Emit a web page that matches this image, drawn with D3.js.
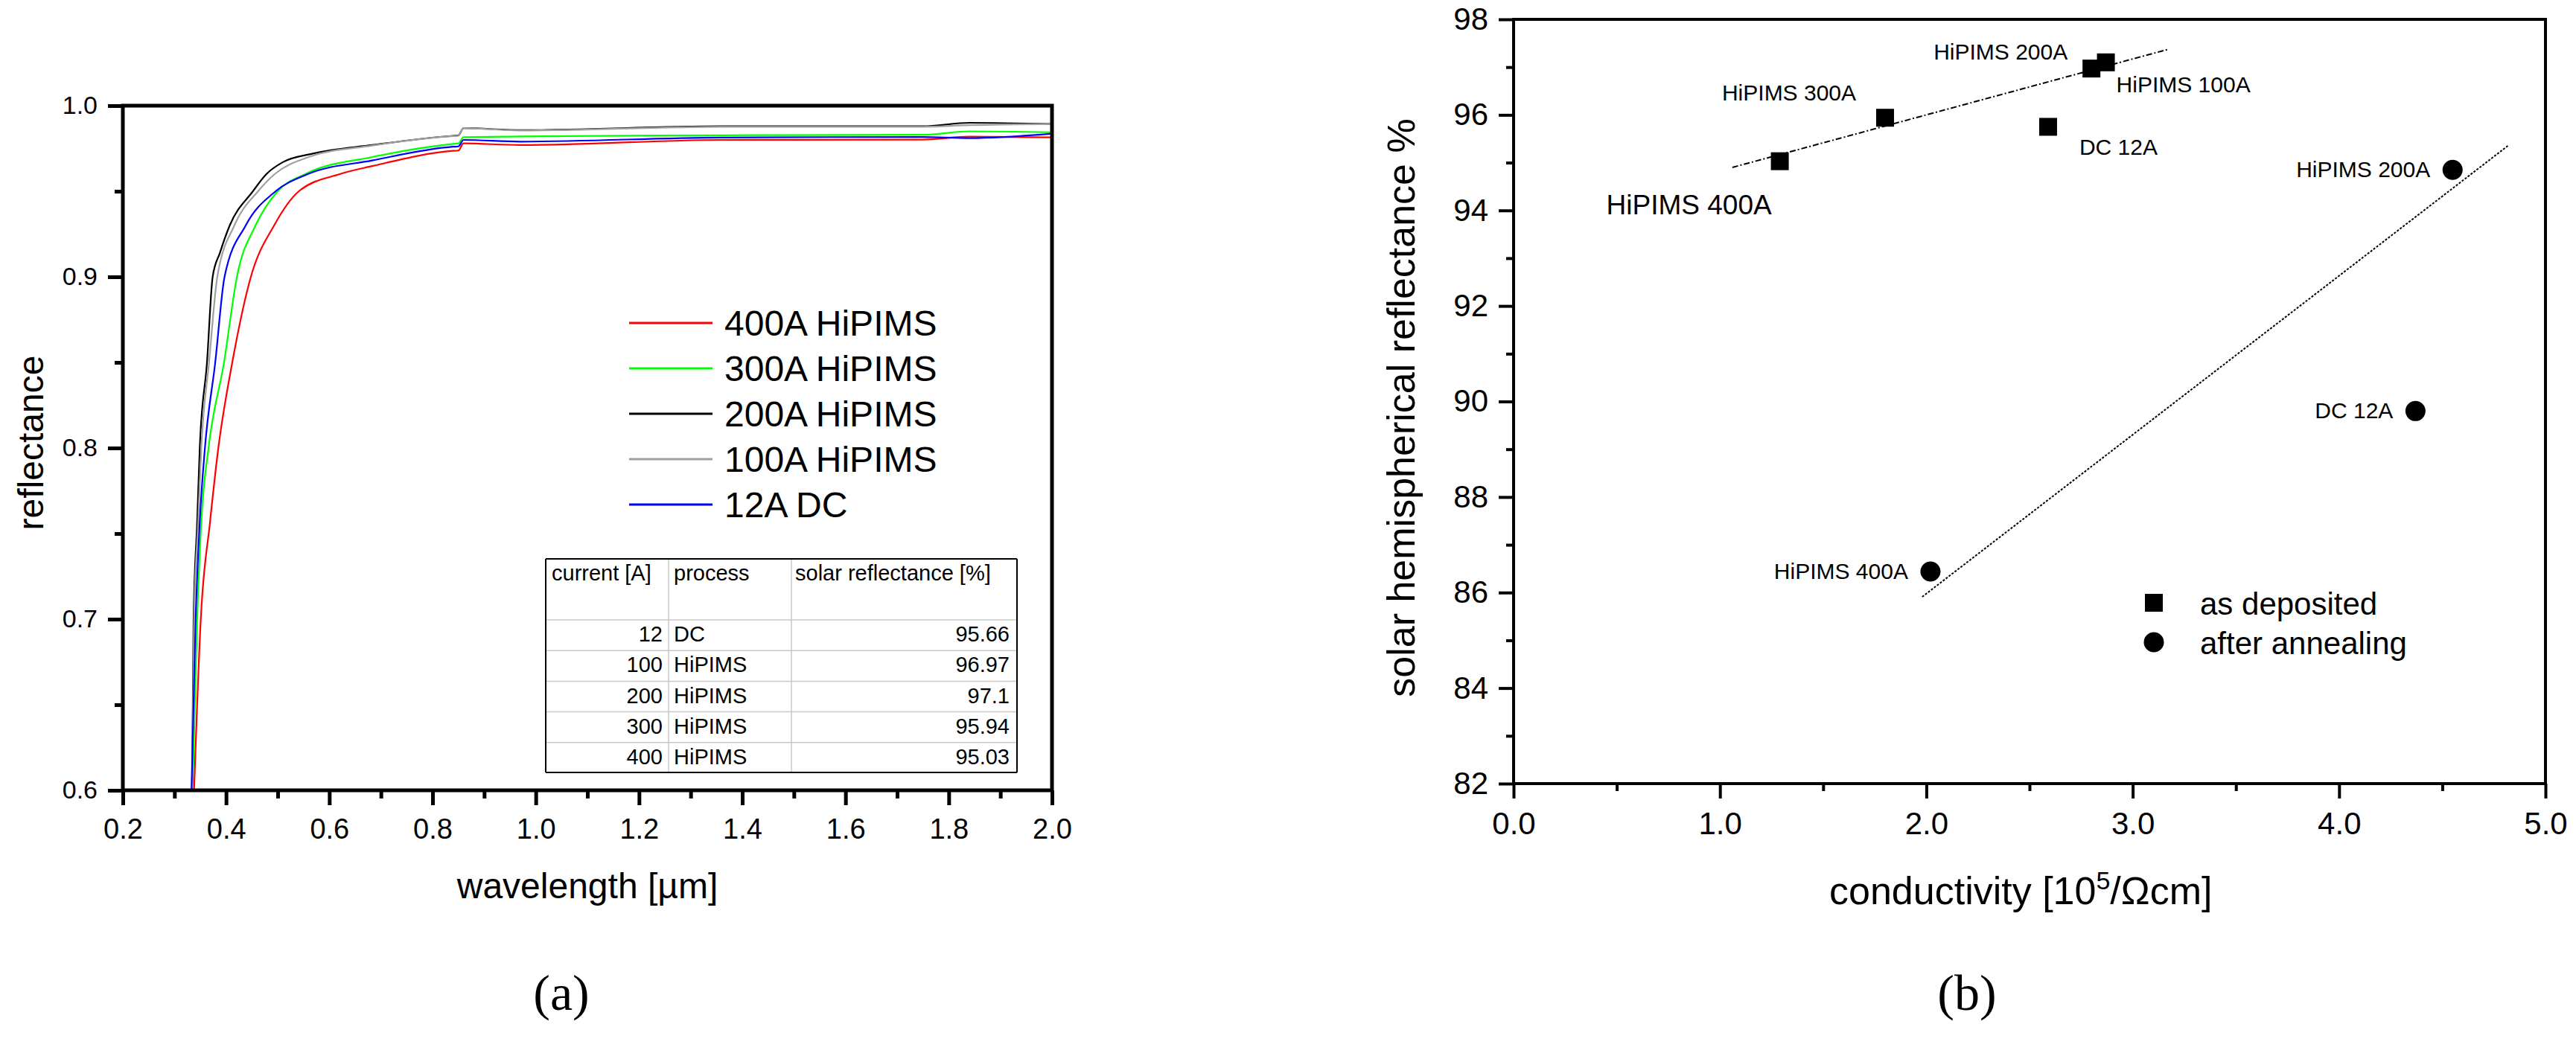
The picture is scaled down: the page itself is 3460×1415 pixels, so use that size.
<!DOCTYPE html>
<html><head><meta charset="utf-8">
<script src="https://cdn.jsdelivr.net/npm/d3@7"></script>
<style>body{margin:0;background:#fff}svg{display:block}text{font-family:"Liberation Sans",Arial,sans-serif;fill:#000}</style>
</head><body>
<svg id="c" width="3460" height="1415"></svg>
<script>
// ---------- Panel (a) data: [wavelength µm, reflectance] ----------
const seriesNames = ["400A HiPIMS","300A HiPIMS","200A HiPIMS","100A HiPIMS","12A DC"];
const seriesColors = ["#ff0000","#00ff00","#000000","#a0a0a0","#0000ff"];
const r400 = [[0.338,0.6],[0.351,0.70],[0.369,0.757],[0.385,0.80],[0.412,0.85],[0.448,0.90],[0.493,0.93],[0.541,0.95],[0.62,0.96],[0.683,0.9647],[0.84,0.9736],[0.85,0.9738],[0.86,0.978],[0.97,0.977],[1.36,0.980],[1.75,0.9802],[1.84,0.9819],[2.0,0.9815]];
const r300 = [[0.335,0.6],[0.344,0.70],[0.352,0.757],[0.366,0.80],[0.396,0.85],[0.421,0.90],[0.457,0.93],[0.50,0.95],[0.553,0.96],[0.683,0.970],[0.84,0.9777],[0.85,0.978],[0.86,0.9816],[0.97,0.982],[1.36,0.9827],[1.75,0.983],[1.84,0.985],[2.0,0.9844]];
const r200 = [[0.334,0.6],[0.337,0.70],[0.344,0.757],[0.349,0.80],[0.363,0.85],[0.374,0.90],[0.388,0.914],[0.407,0.93],[0.452,0.95],[0.478,0.96],[0.51,0.967],[0.568,0.972],[0.683,0.977],[0.84,0.9824],[0.85,0.9826],[0.86,0.9869],[0.97,0.9857],[1.36,0.988],[1.75,0.988],[1.84,0.990],[2.0,0.9893]];
const r100 = [[0.334,0.6],[0.338,0.70],[0.346,0.757],[0.352,0.80],[0.367,0.85],[0.383,0.90],[0.416,0.93],[0.462,0.95],[0.494,0.96],[0.56,0.97],[0.683,0.9767],[0.84,0.9822],[0.85,0.9824],[0.86,0.9869],[0.97,0.9855],[1.36,0.9877],[1.75,0.9877],[1.84,0.9886],[2.0,0.9893]];
const r12 = [[0.333,0.6],[0.341,0.70],[0.349,0.757],[0.359,0.80],[0.379,0.85],[0.397,0.90],[0.438,0.93],[0.496,0.95],[0.558,0.96],[0.683,0.968],[0.84,0.976],[0.85,0.9762],[0.86,0.980],[0.97,0.979],[1.36,0.9814],[1.75,0.9817],[1.84,0.981],[2.0,0.9836]];
const seriesData = [r400,r300,r200,r100,r12];
const xTicksA = [0.2,0.4,0.6,0.8,1.0,1.2,1.4,1.6,1.8,2.0];
const yTicksA = [0.6,0.7,0.8,0.9,1.0];
// table
const tableHeader = ["current [A]","process","solar reflectance [%]"];
const tableCurrent = [12,100,200,300,400];
const tableProcess = ["DC","HiPIMS","HiPIMS","HiPIMS","HiPIMS"];
const tableSolar = ["95.66","96.97","97.1","95.94","95.03"];

// ---------- Panel (b) data ----------
const depLabels = ["HiPIMS 400A","HiPIMS 300A","DC 12A","HiPIMS 200A","HiPIMS 100A"];
const depX = [1.29,1.80,2.59,2.80,2.87];
const depY = [95.03,95.94,95.75,96.97,97.1];
const annLabels = ["HiPIMS 400A","DC 12A","HiPIMS 200A"];
const annX = [2.02,4.37,4.55];
const annY = [86.44,89.8,94.85];
const depFit = [[1.06,94.90],[3.17,97.37]];
const annFit = [[1.98,85.91],[4.82,95.36]];
const xTicksB = [0,1,2,3,4,5];
const yTicksB = [82,84,86,88,90,92,94,96,98];
const legendB = ["as deposited","after annealing"];

const svg = d3.select("#c");

// ================= Panel (a) =================
const xa = d3.scaleLinear().domain([0.2,2.0]).range([165,1413]);
const ya = d3.scaleLinear().domain([0.6,1.0]).range([1062,142]);
const ga = svg.append("g");
const line = d3.line().x(d=>xa(d[0])).y(d=>ya(d[1])).curve(d3.curveMonotoneX);
seriesData.forEach((s,i)=>{
  ga.append("path").attr("d",line(s)).attr("fill","none").attr("stroke",seriesColors[i]).attr("stroke-width",2.2);
});
function styleAxis(g,fs){
  g.selectAll(".domain").remove();
  g.selectAll("line").attr("stroke","#000").attr("stroke-width",5);
  g.selectAll("text").style("font-size",fs+"px").style("font-family","Liberation Sans, Arial, sans-serif");
}
// minor ticks
const xMinA = d3.range(0.3,2.0,0.2).map(v=>+v.toFixed(1));
const yMinA = [0.65,0.75,0.85,0.95];
ga.append("g").attr("transform","translate(0,1062)").call(d3.axisBottom(xa).tickValues(xMinA).tickSize(11).tickFormat("")).call(g=>styleAxis(g,38));
ga.append("g").attr("transform","translate(0,1062)").call(d3.axisBottom(xa).tickValues(xTicksA).tickSize(20).tickPadding(18).tickFormat(d3.format(".1f"))).call(g=>styleAxis(g,38));
ga.append("g").attr("transform","translate(165,0)").call(d3.axisLeft(ya).tickValues(yMinA).tickSize(11).tickFormat("")).call(g=>styleAxis(g,34));
ga.append("g").attr("transform","translate(165,0)").call(d3.axisLeft(ya).tickValues(yTicksA).tickSize(20).tickPadding(14).tickFormat(d3.format(".1f"))).call(g=>styleAxis(g,34));
ga.append("rect").attr("x",165).attr("y",142).attr("width",1413-165).attr("height",1062-142).attr("fill","none").attr("stroke","#000").attr("stroke-width",5);
ga.append("text").attr("x",789).attr("y",1207).attr("text-anchor","middle").style("font-size","48px").text("wavelength [µm]");
ga.append("text").attr("transform","translate(58,595) rotate(-90)").attr("text-anchor","middle").style("font-size","48px").text("reflectance");
ga.append("text").attr("x",754).attr("y",1357).attr("text-anchor","middle").style("font-family","Liberation Serif, Times New Roman, serif").style("font-size","68px").text("(a)");
// legend
seriesNames.forEach((n,i)=>{
  const y = 434 + i*61;
  ga.append("line").attr("x1",845).attr("x2",957).attr("y1",y).attr("y2",y).attr("stroke",seriesColors[i]).attr("stroke-width",3);
  ga.append("text").attr("x",973).attr("y",y+17).style("font-size","48px").text(n);
});
// table
const tL=733, c2=898, c3=1063, tR=1366, tT=751, hB=833, rh=41.2;
const tg = ga.append("g");
tableCurrent.forEach((c,i)=>{
  const y0 = hB + i*rh;
  tg.append("line").attr("x1",tL).attr("x2",tR).attr("y1",y0).attr("y2",y0).attr("stroke","#c8c8c8").attr("stroke-width",1.5);
  tg.append("text").attr("x",c2-8).attr("y",y0+rh-12).attr("text-anchor","end").style("font-size","29px").text(c);
  tg.append("text").attr("x",c2+7).attr("y",y0+rh-12).style("font-size","29px").text(tableProcess[i]);
  tg.append("text").attr("x",tR-10).attr("y",y0+rh-12).attr("text-anchor","end").style("font-size","29px").text(tableSolar[i]);
});
[c2,c3].forEach(x=>tg.append("line").attr("x1",x).attr("x2",x).attr("y1",tT).attr("y2",tT+287).attr("stroke","#c8c8c8").attr("stroke-width",1.5));
[[tL,tT,tR,tT],[tL,tT+287,tR,tT+287],[tL,tT,tL,tT+287],[tR,tT,tR,tT+287]].forEach(l=>tg.append("line").attr("x1",l[0]).attr("y1",l[1]).attr("x2",l[2]).attr("y2",l[3]).attr("stroke","#000").attr("stroke-width",2));
[tL+8,c2+7,c3+5].forEach((x,i)=>tg.append("text").attr("x",x).attr("y",780).style("font-size","29px").text(tableHeader[i]));

// ================= Panel (b) =================
const xb = d3.scaleLinear().domain([0,5]).range([2033,3419]);
const yb = d3.scaleLinear().domain([82,98]).range([1053,26]);
const gb = svg.append("g");
gb.append("g").attr("transform","translate(0,1053)").call(d3.axisBottom(xb).tickValues([0.5,1.5,2.5,3.5,4.5]).tickSize(10).tickFormat("")).call(g=>styleAxis(g,42));
gb.append("g").attr("transform","translate(0,1053)").call(d3.axisBottom(xb).tickValues(xTicksB).tickSize(20).tickPadding(18)).call(g=>styleAxis(g,42));
gb.append("g").attr("transform","translate(2033,0)").call(d3.axisLeft(yb).tickValues(d3.range(83,98,2)).tickSize(10).tickFormat("")).call(g=>styleAxis(g,42));
gb.append("g").attr("transform","translate(2033,0)").call(d3.axisLeft(yb).tickValues(yTicksB).tickSize(20).tickPadding(14)).call(g=>styleAxis(g,42));
gb.selectAll("line").attr("stroke-width",4);
gb.append("rect").attr("x",2033).attr("y",26).attr("width",3419-2033).attr("height",1053-26).attr("fill","none").attr("stroke","#000").attr("stroke-width",4);
const fl = d3.line().x(d=>xb(d[0])).y(d=>yb(d[1]));
gb.append("path").attr("d",fl(depFit)).attr("stroke","#000").attr("stroke-width",2).attr("stroke-dasharray","8,3,2,3").attr("fill","none");
gb.append("path").attr("d",fl(annFit)).attr("stroke","#000").attr("stroke-width",2).attr("stroke-dasharray","3,2").attr("fill","none");
depX.forEach((x,i)=>gb.append("rect").attr("x",xb(x)-12).attr("y",yb(depY[i])-12).attr("width",24).attr("height",24).attr("fill","#000"));
annX.forEach((x,i)=>gb.append("circle").attr("cx",xb(x)).attr("cy",yb(annY[i])).attr("r",13.5).attr("fill","#000"));
// point labels: [dx, dy, anchor, font size]
const depLabOff = [[-233,71,"start",37],[-219,-23,"start",30],[42,38,"start",30],[-212,-12,"start",30],[14,40,"start",30]];
depLabels.forEach((t,i)=>gb.append("text").attr("x",xb(depX[i])+depLabOff[i][0]).attr("y",yb(depY[i])+depLabOff[i][1]).attr("text-anchor",depLabOff[i][2]).style("font-size",depLabOff[i][3]+"px").text(t));
annLabels.forEach((t,i)=>gb.append("text").attr("x",xb(annX[i])-30).attr("y",yb(annY[i])+10).attr("text-anchor","end").style("font-size","30px").text(t));
// legend
gb.append("rect").attr("x",2881).attr("y",798).attr("width",24).attr("height",24).attr("fill","#000");
gb.append("circle").attr("cx",2893).attr("cy",863).attr("r",13.5).attr("fill","#000");
legendB.forEach((t,i)=>gb.append("text").attr("x",2955).attr("y",826+i*53).style("font-size","42px").text(t));
// titles
const xt = gb.append("text").attr("x",2457).attr("y",1215).style("font-size","52px");
xt.append("tspan").text("conductivity [10");
xt.append("tspan").attr("dy",-20).style("font-size","34px").text("5");
xt.append("tspan").attr("dy",20).text("/Ωcm]");
gb.append("text").attr("transform","translate(1900,548) rotate(-90)").attr("text-anchor","middle").style("font-size","52px").text("solar hemispherical reflectance %");
gb.append("text").attr("x",2642).attr("y",1357).attr("text-anchor","middle").style("font-family","Liberation Serif, Times New Roman, serif").style("font-size","68px").text("(b)");
</script>
</body></html>
